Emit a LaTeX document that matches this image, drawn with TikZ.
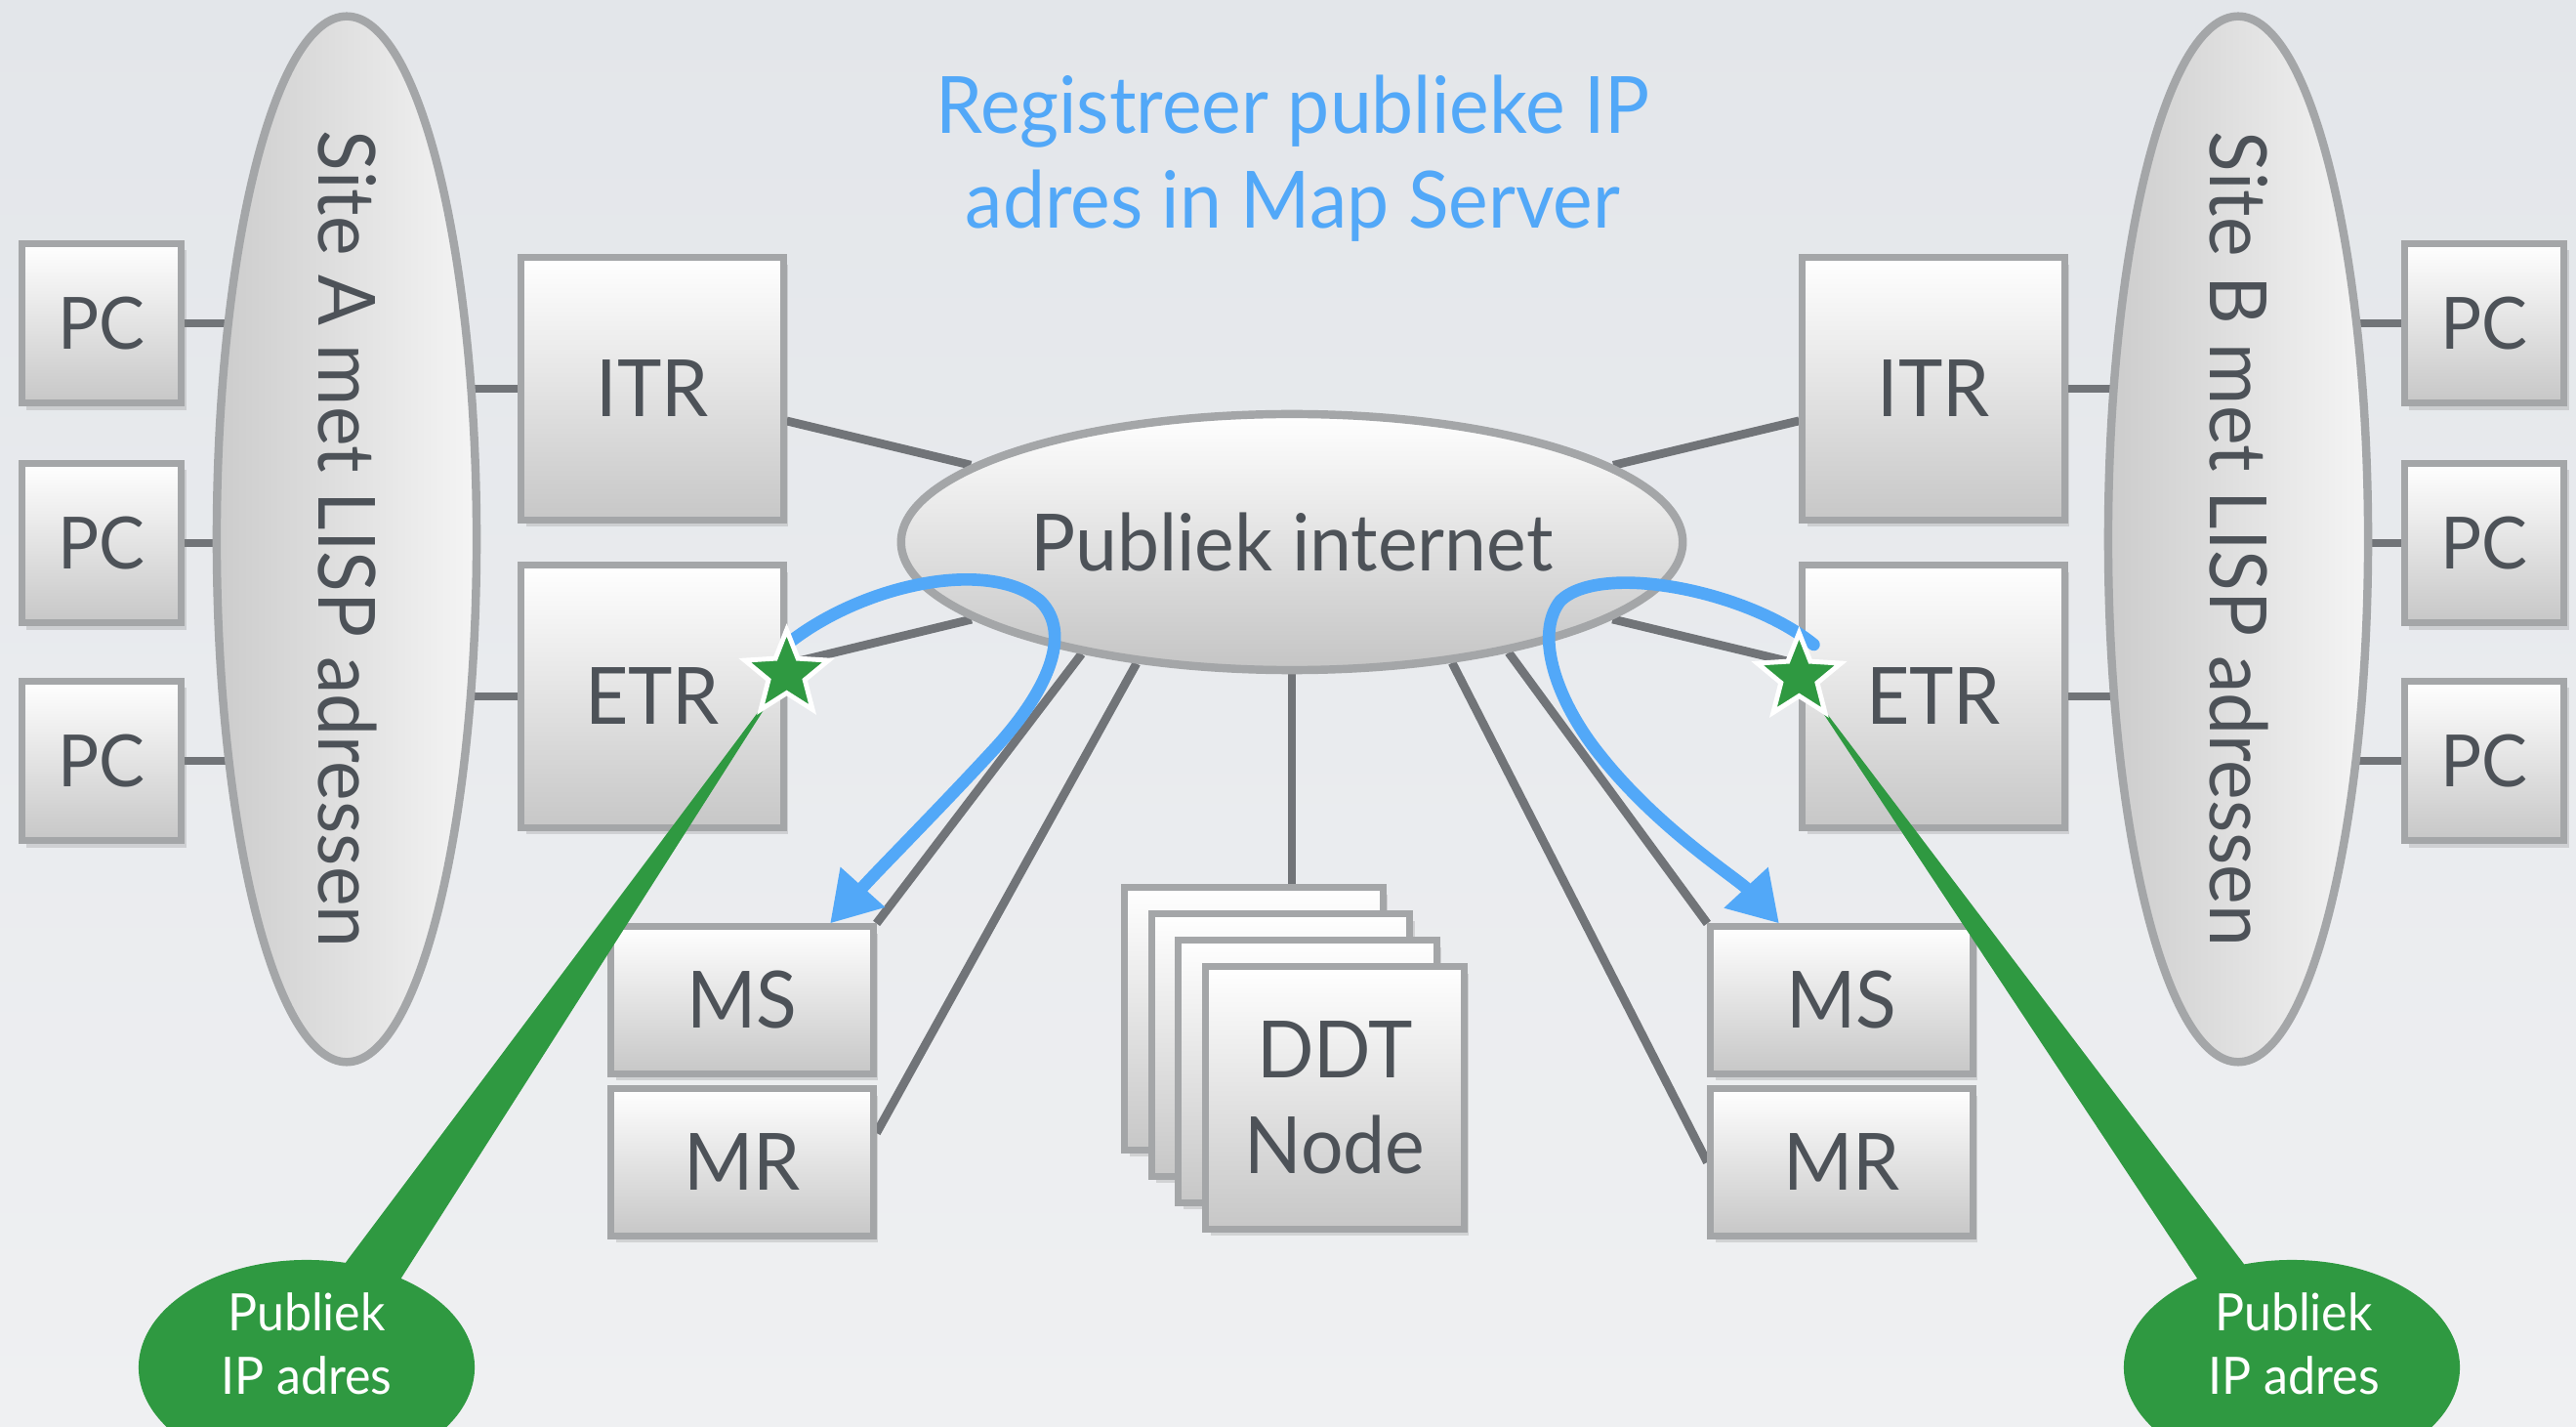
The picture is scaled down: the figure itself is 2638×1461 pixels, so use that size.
\documentclass[tikz,border=0pt]{standalone}
\usepackage{fontspec}
\setmainfont{Lato}[FakeStretch=0.95]
\usepackage{xcolor}
\usetikzlibrary{shapes.geometric, shadows, backgrounds, arrows.meta}
\definecolor{txtgray}{HTML}{4D5258}
\definecolor{linegray}{HTML}{717478}
\definecolor{boxline}{HTML}{A4A6A8}
\definecolor{lispblue}{HTML}{52A8F8}
\definecolor{ipgreen}{HTML}{2F9941}
\definecolor{bgtop}{HTML}{E3E6EA}
\definecolor{bgbot}{HTML}{EFF0F2}
\tikzset{ % node styles
  box/.style={rectangle, draw=boxline, line width=2pt, top color=white, bottom color=black!22,
    drop shadow={opacity=0.25, shadow xshift=0.05cm, shadow yshift=-0.07cm},
    text=txtgray, font=\fontsize{23}{28}\selectfont, align=center, inner sep=0pt},
  pc/.style={box, minimum width=1.63cm, minimum height=1.63cm, font=\fontsize{21}{25}\selectfont},
  router/.style={box, minimum width=2.68cm, minimum height=2.68cm},
  mapbox/.style={box, minimum width=2.68cm, minimum height=1.5cm},
  ddtbox/.style={box, minimum width=2.64cm, minimum height=2.68cm},
  site/.style={ellipse, draw=boxline, line width=2.4pt, left color=black!20, right color=black!4,
    minimum width=2.66cm, minimum height=10.7cm, inner sep=0pt},
  sitetext/.style={rotate=-90, text=txtgray, font=\fontsize{23}{28}\selectfont},
  netcloud/.style={ellipse, draw=boxline, line width=2.4pt, top color=white, bottom color=black!23,
    minimum width=8.0cm, minimum height=2.62cm, inner sep=0pt,
    text=txtgray, font=\fontsize{23}{28}\selectfont},
  ipbubble/.style={ellipse, fill=ipgreen, minimum width=3.44cm, minimum height=2.2cm, inner sep=0pt},
  iptext/.style={text=white, font=\fontsize{15}{18.5}\selectfont, align=center},
  pinmark/.style={star, star points=5, star point ratio=2.3, fill=ipgreen, draw=white,
    line width=1.4pt, minimum size=0.9cm, inner sep=0pt},
  link/.style={draw=linegray, line width=2.5pt},
  register/.style={draw=lispblue, line width=3.6pt, line cap=round,
    -{Triangle[width=0.58cm,length=0.5cm]}},
  heading/.style={text=lispblue, font=\fontsize{23}{27.5}\selectfont, align=center}
}

\begin{document}
\begin{tikzpicture}[x=0.01cm, y=-0.01cm]
\useasboundingbox (0,0) rectangle (2638,1461);
\begin{scope}[on background layer]
\shade[top color=bgtop, bottom color=bgbot] (0,0) rectangle (2638,1461);
\end{scope}

\node[heading] (title) at (1324,162) {Registreer publieke IP\\adres in Map Server};

% site A
\node[site] (siteA) at (355,552) {};
\node[sitetext] (siteAtxt) at (356,552) {Site A met LISP adressen};
\node[pc] (pcA1) at (104,331) {PC};
\node[pc] (pcA2) at (104,556) {PC};
\node[pc] (pcA3) at (104,779) {PC};
\node[router] (itrA) at (668,398) {ITR};
\node[router] (etrA) at (668,713) {ETR};
\node[mapbox] (msA) at (760,1024) {MS};
\node[mapbox] (mrA) at (760,1190) {MR};

% site B
\node[site] (siteB) at (2292,552) {};
\node[sitetext] (siteBtxt) at (2293,552) {Site B met LISP adressen};
\node[pc] (pcB1) at (2544,331) {PC};
\node[pc] (pcB2) at (2544,556) {PC};
\node[pc] (pcB3) at (2544,779) {PC};
\node[router] (itrB) at (1980,398) {ITR};
\node[router] (etrB) at (1980,713) {ETR};
\node[mapbox] (msB) at (1886,1024) {MS};
\node[mapbox] (mrB) at (1886,1190) {MR};

\node[netcloud] (inet) at (1323,555) {Publiek internet};

\foreach \i in {0,1,2}
  \node[ddtbox] (ddt\i) at ({1284+27.5*\i},{1043+27*\i}) {};
\node[ddtbox] (ddt) at (1367,1124) {DDT\\Node};

\begin{scope}[on background layer]
\foreach \s in {A,B} {
  \foreach \n in {1,2,3}
    \draw[link] (pc\s\n) -- (pc\s\n -| site\s);
  \draw[link] (itr\s) -- (itr\s -| site\s);
  \draw[link] (etr\s) -- (etr\s -| site\s);
  \draw[link] (itr\s) -- (inet);
  \draw[link] (etr\s) -- (inet);
}
\draw[link] (msA.north east) -- (inet.208);
\draw[link] ([yshift=0.3cm]mrA.east) -- (inet.218);
\draw[link] (inet) -- (inet |- ddt0.north);
\draw[link] (mrB.west) -- (inet.323);
\draw[link] (msB.north west) -- (inet.333);
\end{scope}

% public address callouts
\coordinate (pinA) at ([yshift=0.23cm]etrA.east);
\coordinate (pinB) at ([yshift=0.2cm]etrB.west);
\node[ipbubble] (ipA) at (314,1400) {};
\node[iptext] (ipAtxt) at (314,1376) {Publiek\\IP adres};
\node[ipbubble] (ipB) at (2347,1400) {};
\node[iptext] (ipBtxt) at (2349,1376) {Publiek\\IP adres};
\fill[ipgreen] (pinA) -- ([xshift=0.2cm,yshift=-0.3cm]ipA.north) -- ([xshift=0.9cm,yshift=-0.3cm]ipA.north) -- cycle;
\fill[ipgreen] (pinB) -- ([xshift=-0.9cm,yshift=-0.3cm]ipB.north) -- ([xshift=-0.3cm,yshift=-0.3cm]ipB.north) -- cycle;

\draw[register] ([yshift=0.3cm]pinA) .. controls (880,600) and (1010,570) .. (1065,615)
  .. controls (1100,650) and (1070,710) .. (1020,765)
  .. controls (960,830) and (900,890) .. ([xshift=0.9cm]msA.north);
\draw[register] ([xshift=0.15cm,yshift=0.33cm]pinB) .. controls (1790,605) and (1640,575) .. (1598,615)
  .. controls (1570,650) and (1595,720) .. (1640,775)
  .. controls (1700,850) and (1780,900) .. ([xshift=-0.64cm]msB.north);

\node[pinmark] (starA) at (pinA) {};
\node[pinmark] (starB) at (pinB) {};
\end{tikzpicture}
\end{document}
